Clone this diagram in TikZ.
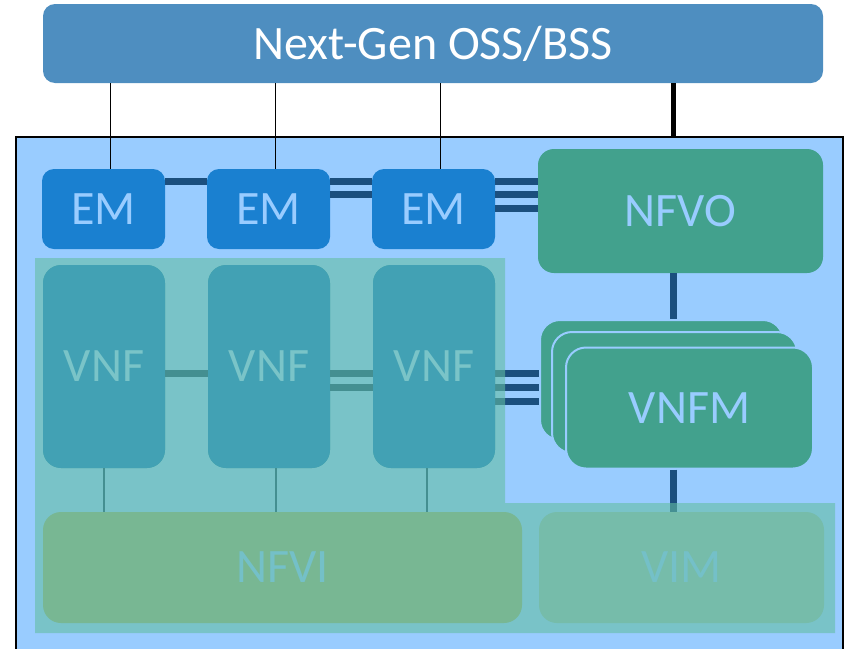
\documentclass[tikz,border=0pt]{standalone}
\usepackage{fontspec}
\setmainfont{Carlito}
\definecolor{ossc}{RGB}{78,142,192}
\definecolor{framec}{RGB}{153,204,255}
\definecolor{emc}{RGB}{26,128,208}
\definecolor{navyc}{RGB}{27,79,126}
\definecolor{greenc}{RGB}{66,161,141}
\definecolor{regionc}{RGB}{100,190,162}
\definecolor{vnfc}{RGB}{66,161,180}
\definecolor{vnfline}{RGB}{68,143,145}
\definecolor{vnftext}{RGB}{122,196,200}
\definecolor{nfvic}{RGB}{120,183,147}
\definecolor{vimc}{RGB}{118,188,170}
\definecolor{faintc}{RGB}{116,192,200}
\begin{document}
\begin{tikzpicture}[x=1pt,y=-1pt,
  blk/.style={rectangle, rounded corners=12pt, inner sep=0pt, font=\fontsize{48}{52}\selectfont},
  navyline/.style={draw=navyc, line width=7pt},
  tealline/.style={draw=vnfline, line width=7pt},
  vnfbox/.style={blk, rounded corners=18pt, fill=vnfc, text=vnftext, minimum width=122pt, minimum height=203pt},
  embox/.style={blk, fill=emc, text=framec, minimum width=123pt, minimum height=80pt},
  vnfmbox/.style={blk, rounded corners=20pt, fill=greenc, draw=framec, line width=2pt, text=framec}]
\useasboundingbox (0,0) rectangle (845,648);
% frame
\node[rectangle, draw=black, line width=2.5pt, fill=framec, inner sep=0pt,
      minimum width=827pt, minimum height=516pt] (frame) at (429.5,395) {};
% OSS
\node[blk, fill=ossc, text=white, minimum width=780pt, minimum height=79pt] (oss) at (433,43.5) {Next-Gen OSS/BSS};
% EMs
\node[embox] (em1) at (103.5,209) {EM};
\node[embox] (em2) at (268.5,209) {EM};
\node[embox] (em3) at (433.5,209) {EM};
% NFVO
\node[blk, rounded corners=16pt, fill=greenc, text=framec, minimum width=285pt, minimum height=124pt] (nfvo) at (680.5,211) {NFVO};
% VNFM stack
\node[vnfmbox, minimum width=243pt, minimum height=120pt] (vnfmA) at (661.5,380) {};
\node[vnfmbox, minimum width=245pt, minimum height=121pt] (vnfmB) at (674.5,392.5) {};
\node[vnfmbox, minimum width=247pt, minimum height=121pt] (vnfmC) at (689.5,408) {VNFM};
% OSS links
\draw[black, line width=1pt] (oss.south -| 110,0) -- (em1.north -| 110,0);
\draw[black, line width=1pt] (oss.south -| 275,0) -- (em2.north -| 275,0);
\draw[black, line width=1pt] (oss.south -| 440,0) -- (em3.north -| 440,0);
\draw[black, line width=5pt] (oss.south -| 673,0) -- ([yshift=-2pt]frame.north -| 673,0);
% EM links
\draw[navyline] (em1.east |- 0,181.5) -- (em2.west |- 0,181.5);
\draw[navyline] (em2.east |- 0,181.5) -- (em3.west |- 0,181.5);
\draw[navyline] (em2.east |- 0,194.5) -- (em3.west |- 0,194.5);
\draw[navyline] (em3.east |- 0,181.5) -- (nfvo.west |- 0,181.5);
\draw[navyline] (em3.east |- 0,194.5) -- (nfvo.west |- 0,194.5);
\draw[navyline] (em3.east |- 0,208.5) -- (nfvo.west |- 0,208.5);
% NFVO - VNFM - VIM
\draw[navyline] (nfvo.south -| 673,0) -- (vnfmA.north -| 673,0);
\coordinate (vimtop) at (673,512);
\draw[navyline] (vnfmC.south -| 673,0) -- (vimtop);
% VNF3 - VNFM
\node[vnfbox] (vnf1) at (104,366.5) {VNF};
\node[vnfbox] (vnf2) at (269,366.5) {VNF};
\node[vnfbox] (vnf3) at (434,366.5) {VNF};
\draw[navyline] (vnf3.east |- 0,373.5) -- (vnfmA.west |- 0,373.5);
\draw[navyline] (vnf3.east |- 0,387) -- (vnfmA.west |- 0,387);
\draw[navyline] (vnf3.east |- 0,401.5) -- (vnfmA.west |- 0,401.5);
% translucent region
\fill[regionc, opacity=0.59] (35,258) -- (505,258) -- (505,503) -- (835,503) -- (835,633) -- (35,633) -- cycle;
% VNF boxes on top
\node[vnfbox] at (vnf1) {VNF};
\node[vnfbox] at (vnf2) {VNF};
\node[vnfbox] at (vnf3) {VNF};
% NFVI, VIM
\node[blk, rounded corners=18pt, fill=nfvic, text=faintc, minimum width=479pt, minimum height=111pt] (nfvi) at (282.5,567.5) {NFVI};
\node[blk, rounded corners=18pt, fill=vimc, text=faintc, minimum width=285pt, minimum height=111pt] (vim) at (681.5,567.5) {VIM};
% VNF links
\draw[tealline] (vnf1.east |- 0,373) -- (vnf2.west |- 0,373);
\draw[tealline] (vnf2.east |- 0,373) -- (vnf3.west |- 0,373);
\draw[tealline] (vnf2.east |- 0,387) -- (vnf3.west |- 0,387);
\draw[vnfline, line width=1.5pt] (vnf1.south -| 104,0) -- (nfvi.north -| 104,0);
\draw[vnfline, line width=1.5pt] (vnf2.south -| 276,0) -- (nfvi.north -| 276,0);
\draw[vnfline, line width=1.5pt] (vnf3.south -| 427,0) -- (nfvi.north -| 427,0);
\end{tikzpicture}
\end{document}
